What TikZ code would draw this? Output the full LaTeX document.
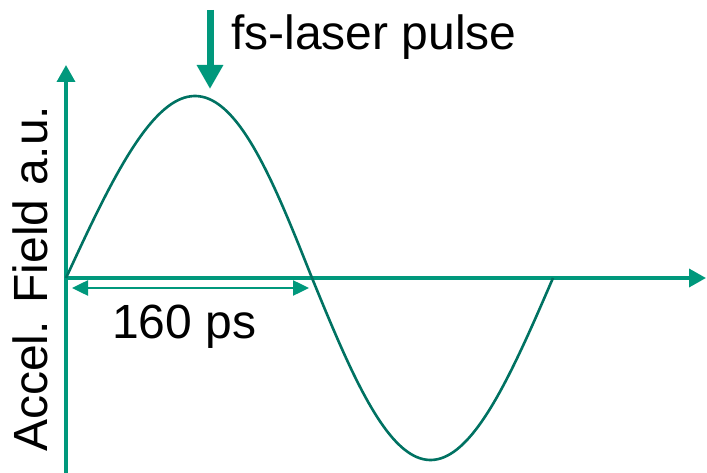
\documentclass[tikz,border=0pt]{standalone}
\usepackage{fontspec}
\setmainfont{Liberation Sans}
\usetikzlibrary{arrows.meta}
\definecolor{axisgreen}{RGB}{0,152,124}
\definecolor{curvegreen}{RGB}{0,114,98}
\tikzset{
  axisline/.style={draw=axisgreen, line width=3.5pt, -{Triangle[length=17pt,width=18pt]}},
  spanarrow/.style={draw=axisgreen, line width=2.5pt, {Triangle[length=16pt,width=15pt]}-{Triangle[length=16pt,width=15pt]}},
  pulsearrow/.style={draw=axisgreen, line width=7pt, -{Triangle[length=24pt,width=25pt]}},
  wave/.style={draw=curvegreen, line width=2.6pt},
  label/.style={inner sep=0pt, font=\fontsize{48}{50}\selectfont, text=black}
}
\begin{document}
\begin{tikzpicture}[x=1pt,y=-1pt]
\useasboundingbox (0,0) rectangle (707,473);
% coordinates
\coordinate (vbot) at (66,473);
\coordinate (vtop) at (66,65);
\coordinate (O) at (66,278);
\coordinate (hend) at (706,278);
\coordinate (sl) at (72,288);
\coordinate (sr) at (309,288);
\coordinate (ptop) at (210,10);
\coordinate (ptip) at (210,89);
% axes
\draw[axisline] (vbot) -- (vtop);
\draw[axisline] (O) -- (hend);
% wave
\draw[wave] plot[domain=0:180, samples=80] ({66+1.36667*\x+6*sin(\x)}, {278-182*sin(\x)})
  -- plot[domain=180:360, samples=80] ({312+1.33889*(\x-180)-2*sin(\x-180)}, {278-182*sin(\x)});
% span arrow
\draw[spanarrow] (sl) -- (sr);
% pulse arrow
\draw[pulsearrow] (ptop) -- (ptip);
% labels
\node[label, anchor=base west] (pulse) at (231,50) {fs-laser pulse};
\node[label, anchor=base west] (span) at (112,338) {160 ps};
\node[label, anchor=base west, rotate=90] (ylab) at (47,452) {Accel. Field a.u.};
\end{tikzpicture}
\end{document}
